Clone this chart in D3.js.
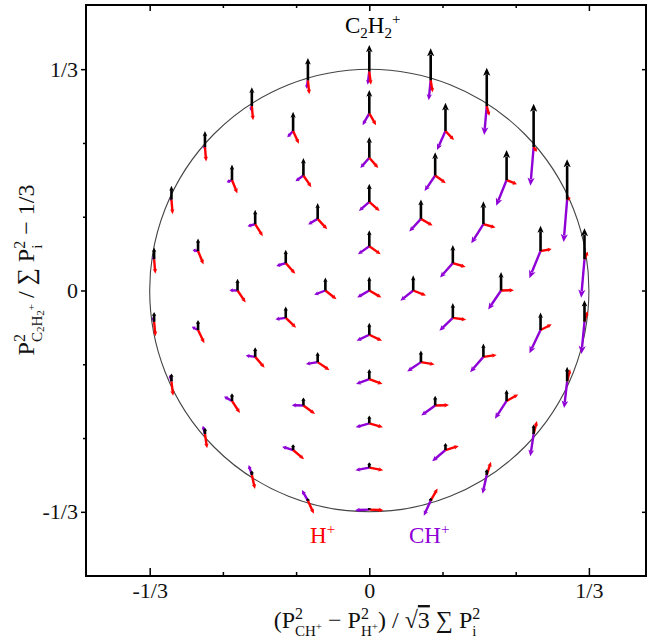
<!DOCTYPE html>
<html>
<head>
<meta charset="utf-8">
<script src="https://cdn.jsdelivr.net/npm/d3@7"></script>
<style>
  body { margin: 0; background: #fff; }
  svg text { font-family: "Liberation Serif", "Times New Roman", serif; white-space: pre; }
</style>
</head>
<body>
<div id="container"></div>
<script>
// Dalitz grid points: radius of each ring and the angles (deg, clockwise from +y) of its points
const ringRadius = [0, 1/15, 2/15, 3/15, 4/15, 0.33];
const ring0Angles = [0];
const ring1Angles = [0, 90, 180, 270];
const ring2Angles = [0, 36, 72, 108, 144, 180, 216, 252, 288, 324];
const ring3Angles = [0, 30, 60, 90, 120, 150, 180, 210, 240, 270, 300, 330];
const ring4Angles = [0, 25.7, 51.4, 77.1, 102.9, 128.6, 154.3, 180, 205.7, 231.4, 257.1, 282.9, 308.6, 334.3];
const ring5Angles = [0, 16.4, 32.7, 49.1, 65.5, 81.8, 98.2, 114.5, 130.9, 147.3, 163.6,
                     180, 196.4, 212.7, 229.1, 245.5, 261.8, 278.2, 294.5, 310.9, 327.3, 343.6];
const ringAngles = [ring0Angles, ring1Angles, ring2Angles, ring3Angles, ring4Angles, ring5Angles];

// fragments: C2H2+, CH+, H+
const ionMass = [26, 13, 1];
const ionColor = ["#000000", "#8f00d6", "#ff0000"];

const majorTicks = [-1/3, 0, 1/3];
const majorTickLabels = ["-1/3", "0", "1/3"];
const minorTicks = [-2/9, -1/9, 1/9, 2/9];

const width = 648, height = 640;

const svg = d3.select("div#container")
  .append("svg")
  .attr("width", width)
  .attr("height", height);

// Scales
const x = d3.scaleLinear().domain([-0.43, 0.42]).range([86, 646]);
const y = d3.scaleLinear().domain([-0.43, 0.43]).range([576, 5]);
const arrowLen = d3.scaleLinear().domain([0, 1]).range([0, 14.8]);

// Axes (ticks only, frame drawn separately)
const addAxis = (axis, tx, ty) => {
  svg.append("g")
    .attr("transform", `translate(${tx},${ty})`)
    .call(axis)
    .call((g) => g.select(".domain").remove())
    .call((g) => g.selectAll("line").attr("stroke-width", 1.5))
    .call((g) => g.selectAll("text").attr("font-size", 22).attr("fill", "#111"));
};
const fmt = (d, i) => majorTickLabels[i];
addAxis(d3.axisBottom(x).tickValues(majorTicks).tickSize(-8).tickPadding(6.5).tickFormat(fmt), 0, 576);
addAxis(d3.axisBottom(x).tickValues(minorTicks).tickSize(-4).tickFormat(""), 0, 576);
addAxis(d3.axisTop(x).tickValues(majorTicks).tickSize(-6).tickFormat(""), 0, 5);
addAxis(d3.axisTop(x).tickValues(minorTicks).tickSize(-3).tickFormat(""), 0, 5);
addAxis(d3.axisLeft(y).tickValues(majorTicks).tickSize(5).tickPadding(3).tickFormat(fmt), 86, 0);
addAxis(d3.axisLeft(y).tickValues(minorTicks).tickSize(3).tickFormat(""), 86, 0);
addAxis(d3.axisRight(y).tickValues(majorTicks).tickSize(-4).tickFormat(""), 646, 0);

// Frame
svg.append("rect")
  .attr("x", 86).attr("y", 5)
  .attr("width", 646 - 86).attr("height", 576 - 5)
  .attr("fill", "none")
  .attr("stroke", "#000")
  .attr("stroke-width", 2);

// Boundary circle
svg.append("ellipse")
  .attr("cx", x(0)).attr("cy", y(0))
  .attr("rx", x(1/3) - x(0)).attr("ry", y(0) - y(1/3))
  .attr("fill", "none")
  .attr("stroke", "#444")
  .attr("stroke-width", 1.1);

// Build points
const points = [];
ringAngles.forEach((angles, i) => {
  angles.forEach((a) => {
    const t = a * Math.PI / 180;
    points.push({ dx: ringRadius[i] * Math.sin(t), dy: ringRadius[i] * Math.cos(t) });
  });
});

// momentum vectors at a Dalitz point (fixed total kinetic energy)
const momenta = (p) => {
  const e = [
    p.dy + 1/3,
    (2/3 - p.dy + Math.sqrt(3) * p.dx) / 2,
    (2/3 - p.dy - Math.sqrt(3) * p.dx) / 2
  ].map((v) => Math.max(v, 0));
  const s = 1 / d3.sum(e, (v, i) => v / ionMass[i]);
  const m = e.map((v) => Math.sqrt(v * s));
  let b2 = 0, b3 = 0;
  if (m[0] > 1e-6) {
    b2 = (m[0] * m[0] + m[1] * m[1] - m[2] * m[2]) / (2 * m[0]);
    b3 = m[0] - b2;
  }
  const a = Math.sqrt(Math.max(0, m[1] * m[1] - b2 * b2));
  // screen direction (y down)
  return [[0, -m[0]], [-a, b2], [a, b3]];
};

const arrow = (g, x0, y0, vx, vy, color, w) => {
  const len = Math.hypot(vx, vy);
  if (len < 0.6) return;
  const ux = vx / len, uy = vy / len;
  const hl = Math.min(len, 8, 2 + 0.2 * len);
  const hw = Math.max(2.2, hl * 0.45);
  const bx = x0 + ux * (len - hl), by = y0 + uy * (len - hl);
  g.append("line")
    .attr("x1", x0).attr("y1", y0)
    .attr("x2", bx + ux * 1.5).attr("y2", by + uy * 1.5)
    .attr("stroke", color).attr("stroke-width", w);
  g.append("path")
    .attr("d", `M${x0 + vx},${y0 + vy}L${bx - uy * hw},${by + ux * hw}` +
      `L${bx + ux * hl * 0.25},${by + uy * hl * 0.25}L${bx + uy * hw},${by - ux * hw}Z`)
    .attr("fill", color);
};

const arrows = svg.append("g");
points.forEach((p) => {
  const v = momenta(p);
  const px = x(p.dx), py = y(p.dy);
  [1, 2, 0].forEach((k) => {
    arrow(arrows, px, py, arrowLen(v[k][0]), arrowLen(v[k][1]), ionColor[k], k === 0 ? 2.6 : 2.4);
  });
});

// math-like text built from pieces
const mathText = (parent, parts, fill) => {
  const g = parent.append("g");
  let maxEnd = 0, prevStart = 0, prevEnd = 0;
  parts.forEach((p) => {
    const t = g.append("text")
      .attr("font-size", p.s)
      .attr("fill", fill)
      .text(p.t);
    if (p.over) t.style("text-decoration", "overline");
    const w = t.node().getComputedTextLength();
    const px = p.stack ? prevStart : (p.cont ? prevEnd : maxEnd);
    t.attr("x", px).attr("y", p.dy || 0);
    prevStart = px; prevEnd = px + w; maxEnd = Math.max(maxEnd, prevEnd);
  });
  return { g, w: maxEnd };
};

const M = 24, S = 16, B = 15, T = 11;

// fragment labels
const lab1 = mathText(svg, [
  { t: "C", s: 23 }, { t: "2", s: 15, dy: 5 }, { t: "H", s: 23 }, { t: "2", s: 15, dy: 5 }, { t: "+", s: 15, dy: -9 }
], ionColor[0]);
lab1.g.attr("transform", "translate(345,33)");
const lab2 = mathText(svg, [{ t: "H", s: 23 }, { t: "+", s: 15, dy: -9 }], ionColor[2]);
lab2.g.attr("transform", "translate(310,543)");
const lab3 = mathText(svg, [{ t: "CH", s: 23 }, { t: "+", s: 15, dy: -9 }], ionColor[1]);
lab3.g.attr("transform", "translate(409,543)");

// x title
const xt = mathText(svg, [
  { t: "(P", s: M }, { t: "2", s: S, dy: -9.5 }, { t: "CH", s: B, dy: 7.5, stack: true }, { t: "+", s: T, dy: 1.5, cont: true },
  { t: " − P", s: M }, { t: "2", s: S, dy: -9.5 }, { t: "H", s: B, dy: 7.5, stack: true }, { t: "+", s: T, dy: 1.5, cont: true },
  { t: ") / ", s: M }, { t: "√", s: M }, { t: "3", s: M, over: true, cont: true },
  { t: " ∑ P", s: M }, { t: "2", s: S, dy: -9.5 }, { t: "i", s: B, dy: 7.5, stack: true }
], "#111");
xt.g.attr("transform", `translate(${377 - xt.w / 2},628)`);

// y title
const yt = mathText(svg, [
  { t: "P", s: M }, { t: "2", s: S, dy: -9.5 }, { t: "C", s: B, dy: 7.5, stack: true }, { t: "2", s: T, dy: 10, cont: true },
  { t: "H", s: B, dy: 7.5, cont: true }, { t: "2", s: T, dy: 10, cont: true }, { t: "+", s: T, dy: 1, cont: true },
  { t: " / ∑ P", s: M }, { t: "2", s: S, dy: -9.5 }, { t: "i", s: B, dy: 7.5, stack: true },
  { t: " − 1/3", s: M }
], "#111");
yt.g.attr("transform", `translate(34,270) rotate(-90) translate(${-yt.w / 2},0)`);
</script>
</body>
</html>
